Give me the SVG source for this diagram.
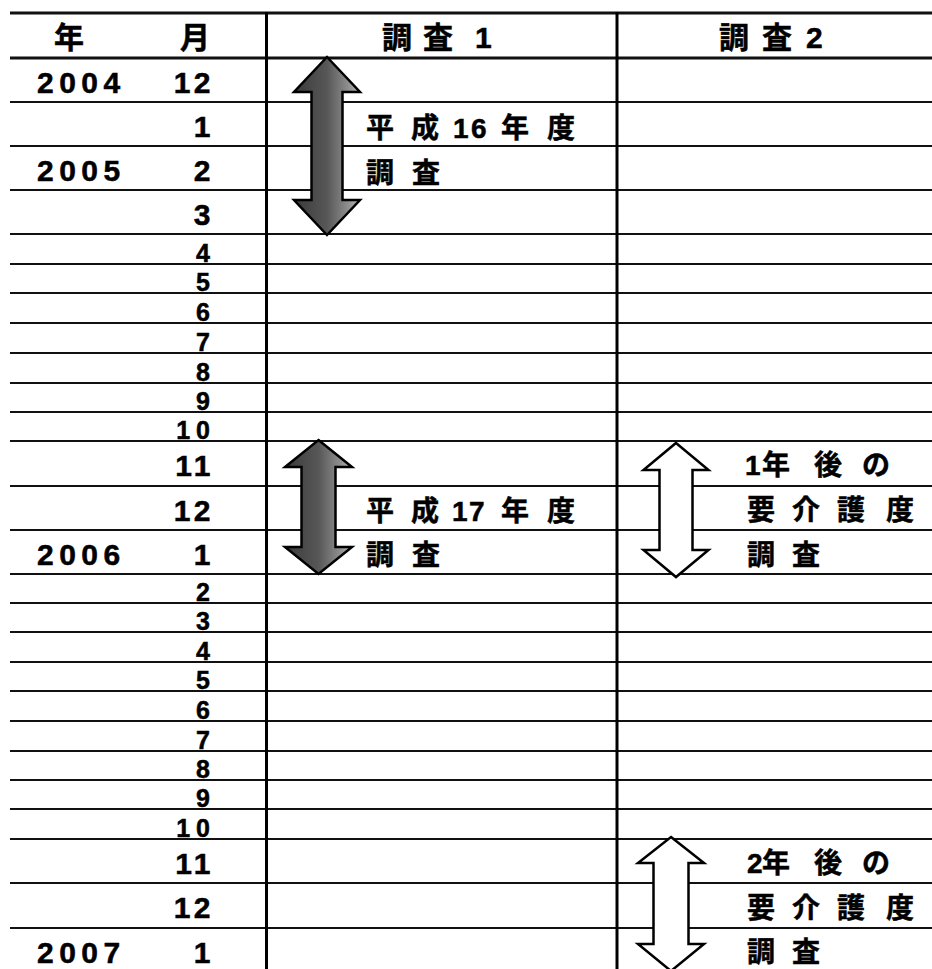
<svg xmlns="http://www.w3.org/2000/svg" width="932" height="969" viewBox="0 0 932 969">
<style>
.hl{stroke:#111;stroke-width:2}
.hlt{stroke:#111;stroke-width:3}
.vl{stroke:#000;stroke-width:3}
text{font-family:"Liberation Sans","Noto Sans CJK JP",sans-serif;font-weight:bold;fill:#000;stroke:#000;stroke-width:0.5}
.hd{font-size:30px}
.yr{font-size:30px;letter-spacing:5.5px}
.mo{font-size:30px;letter-spacing:3.5px;text-anchor:end}
.ms{font-size:25px;letter-spacing:6px;text-anchor:end}
.lb{font-size:28px}
.dark{fill:url(#g1);stroke:#000;stroke-width:2.5;stroke-linejoin:miter}
.light{fill:#fff;stroke:#000;stroke-width:2.5;stroke-linejoin:miter}
</style>
<defs>
<linearGradient id="g1" x1="0" y1="0" x2="1" y2="0">
<stop offset="0" stop-color="#3a3a3a"/>
<stop offset="0.5" stop-color="#575757"/>
<stop offset="0.82" stop-color="#8e8e8e"/>
<stop offset="1" stop-color="#b8b8b8"/>
</linearGradient>
</defs>
<rect width="932" height="969" fill="#fff"/>
<g id="grid">
<line class="hlt" x1="10" y1="13" x2="932" y2="13"/>
<line class="hlt" x1="10" y1="58" x2="932" y2="58"/>
<g>
<line class="hl" x1="10" y1="102" x2="932" y2="102"/>
<line class="hl" x1="10" y1="146" x2="932" y2="146"/>
<line class="hl" x1="10" y1="190" x2="932" y2="190"/>
<line class="hl" x1="10" y1="234" x2="932" y2="234"/>
<line class="hl" x1="10" y1="264" x2="932" y2="264"/>
<line class="hl" x1="10" y1="293" x2="932" y2="293"/>
<line class="hl" x1="10" y1="323" x2="932" y2="323"/>
<line class="hl" x1="10" y1="353" x2="932" y2="353"/>
<line class="hl" x1="10" y1="383" x2="932" y2="383"/>
<line class="hl" x1="10" y1="412" x2="932" y2="412"/>
<line class="hl" x1="10" y1="441" x2="932" y2="441"/>
<line class="hl" x1="10" y1="486" x2="932" y2="486"/>
<line class="hl" x1="10" y1="530" x2="932" y2="530"/>
<line class="hl" x1="10" y1="574" x2="932" y2="574"/>
<line class="hl" x1="10" y1="603" x2="932" y2="603"/>
<line class="hl" x1="10" y1="632" x2="932" y2="632"/>
<line class="hl" x1="10" y1="662" x2="932" y2="662"/>
<line class="hl" x1="10" y1="691" x2="932" y2="691"/>
<line class="hl" x1="10" y1="721" x2="932" y2="721"/>
<line class="hl" x1="10" y1="751" x2="932" y2="751"/>
<line class="hl" x1="10" y1="780" x2="932" y2="780"/>
<line class="hl" x1="10" y1="809" x2="932" y2="809"/>
<line class="hl" x1="10" y1="839" x2="932" y2="839"/>
<line class="hl" x1="10" y1="883" x2="932" y2="883"/>
<line class="hl" x1="10" y1="928" x2="932" y2="928"/>
</g>
<line class="vl" x1="266.5" y1="12" x2="266.5" y2="969"/>
<line class="vl" x1="617" y1="12" x2="617" y2="969"/>
</g>
<g id="header">
<text class="hd" x="69" y="48" text-anchor="middle">年</text>
<text class="hd" x="195" y="48" text-anchor="middle">月</text>
<text class="hd" x="382 410 423 455 475" y="48">調 査 1</text>
<text class="hd" x="719 748 762 795 806" y="48">調 査 2</text>
</g>
<g id="years">
<text class="yr" x="37" y="93">2004</text>
<text class="yr" x="37" y="181">2005</text>
<text class="yr" x="37" y="565">2006</text>
<text class="yr" x="37" y="963">2007</text>
</g>
<g id="months">
<text class="mo" x="214" y="93">12</text>
<text class="mo" x="214" y="137">1</text>
<text class="mo" x="214" y="181">2</text>
<text class="mo" x="214" y="225">3</text>
<text class="ms" x="216" y="262">4</text>
<text class="ms" x="216" y="291">5</text>
<text class="ms" x="216" y="321">6</text>
<text class="ms" x="216" y="351">7</text>
<text class="ms" x="216" y="381">8</text>
<text class="ms" x="216" y="410">9</text>
<text class="ms" x="216" y="439">10</text>
<text class="mo" x="214" y="476">11</text>
<text class="mo" x="214" y="521">12</text>
<text class="mo" x="214" y="565">1</text>
<text class="ms" x="216" y="601">2</text>
<text class="ms" x="216" y="630">3</text>
<text class="ms" x="216" y="660">4</text>
<text class="ms" x="216" y="689">5</text>
<text class="ms" x="216" y="719">6</text>
<text class="ms" x="216" y="749">7</text>
<text class="ms" x="216" y="778">8</text>
<text class="ms" x="216" y="807">9</text>
<text class="ms" x="216" y="837">10</text>
<text class="mo" x="214" y="874">11</text>
<text class="mo" x="214" y="918">12</text>
<text class="mo" x="214" y="963">1</text>
</g>
<g id="survey-h16">
<polygon class="dark" points="327,57 360,92 342.5,92 342.5,200 360,200 327,235 294,200 311.5,200 311.5,92 294,92"/>
<text class="lb" x="366 395 411 440 453 471 501 531 547" y="138">平 成 16年 度</text>
<text class="lb" x="366 395 412" y="183">調 査</text>
</g>
<g id="survey-h17">
<polygon class="dark" points="318.5,440 352,467 335.5,467 335.5,547 352,547 318.5,574 285,547 301.5,547 301.5,467 285,467"/>
<text class="lb" x="366 395 411 440 452 469 501 531 547" y="521">平 成 17年 度</text>
<text class="lb" x="366 395 412" y="565">調 査</text>
</g>
<g id="followup-1y">
<polygon class="light" points="676,443 708.5,470 692.5,470 692.5,550 708.5,550 676,577 643.5,550 659.5,550 659.5,470 643.5,470"/>
<text class="lb" x="745 762 791 814 843 862" y="475">1年 後 の</text>
<text class="lb" x="747 775 792 820 837 866 886" y="520">要 介 護 度</text>
<text class="lb" x="747 775 792" y="565">調 査</text>
</g>
<g id="followup-2y">
<polygon class="light" points="671,837 704,863 688.5,863 688.5,944 704,944 671,971 638,944 653.5,944 653.5,863 638,863"/>
<text class="lb" x="747 762 791 814 843 862" y="873">2年 後 の</text>
<text class="lb" x="747 775 792 820 837 866 886" y="918">要 介 護 度</text>
<text class="lb" x="747 775 792" y="962">調 査</text>
</g>
</svg>
